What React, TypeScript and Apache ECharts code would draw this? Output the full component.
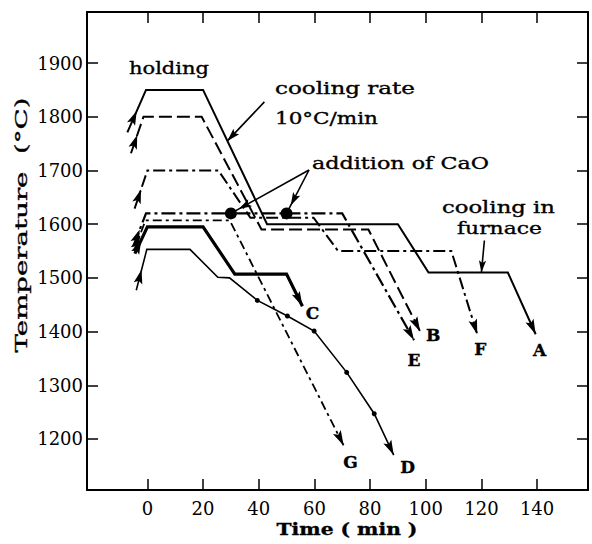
import React, { useEffect, useRef } from "react";
import * as echarts from "echarts";

// ---- data: time (min) and temperature (°C) vertices ----
const timeA = [-7.2, -0.5, 20, 43, 90, 101, 129.5, 139.5];
const tempA = [1771, 1850, 1850, 1600, 1600, 1510, 1510, 1395];
const timeB = [-5.9, -1.4, 19.5, 41, 79.4, 98];
const tempB = [1732, 1800, 1800, 1590, 1590, 1400];
const timeC = [-4.5, 0, 20, 31.4, 50, 55.7];
const tempC = [1545, 1595, 1595, 1507, 1507, 1447];
const timeD = [-4, -0.2, 15.3, 25.3, 29.5, 39.5, 50.3, 59.9, 71.6, 81.5, 88.5];
const tempD = [1477, 1553, 1553, 1501, 1500, 1458, 1429, 1401, 1324, 1247, 1170];
const sampledD = [5, 6, 7, 8, 9];
const timeE = [-5, -0.5, 70, 95.8];
const tempE = [1560, 1620, 1620, 1384];
const timeF = [-4.6, 0, 25.5, 37, 59.7, 68.5, 109.2, 118.5];
const tempF = [1629, 1700, 1700, 1612, 1612, 1550, 1550, 1395];
const timeG = [-4.8, -0.7, 29.6, 70.5];
const tempG = [1550, 1607, 1607, 1188];
const caoTimes = [30, 50];
const caoTemp = 1620;

const xTicks = [0, 20, 40, 60, 80, 100, 120, 140];
const yTicks = [1200, 1300, 1400, 1500, 1600, 1700, 1800, 1900];

const SERIF = '"DejaVu Serif"';

type Run = {
  name: string;
  t: number[];
  T: number[];
  dash: any;
  width: number;
  lab: [number, number];
};

const runs: Run[] = [
  { name: "A", t: timeA, T: tempA, dash: "solid", width: 2, lab: [4, 16] },
  { name: "B", t: timeB, T: tempB, dash: [13, 5], width: 2, lab: [13, 3] },
  { name: "C", t: timeC, T: tempC, dash: "solid", width: 3.2, lab: [10, 7] },
  { name: "D", t: timeD, T: tempD, dash: "solid", width: 1.6, lab: [14, 12] },
  { name: "E", t: timeE, T: tempE, dash: [14, 4, 3, 4], width: 2.2, lab: [0, 20] },
  { name: "F", t: timeF, T: tempF, dash: [12, 4, 3, 4], width: 2, lab: [3, 15] },
  { name: "G", t: timeG, T: tempG, dash: [9, 4, 3, 4], width: 1.8, lab: [7, 17] },
];

const measure = (text: string, font: string) => {
  const ctx = document.createElement("canvas").getContext("2d")!;
  ctx.font = font;
  return ctx.measureText(text).width;
};

function buildGraphics(chart: any) {
  const P = (t: number, T: number) =>
    chart.convertToPixel({ xAxisIndex: 0, yAxisIndex: 0 }, [t, T]) as number[];
  const els: any[] = [];

  const head = (tip: number[], from: number[], L = 12, W = 3.6) => {
    const dx = tip[0] - from[0];
    const dy = tip[1] - from[1];
    const len = Math.hypot(dx, dy) || 1;
    const ux = dx / len, uy = dy / len;
    const nx = -uy, ny = ux;
    const bx = tip[0] - ux * L, by = tip[1] - uy * L;
    const mx = tip[0] - ux * L * 0.8, my = tip[1] - uy * L * 0.8;
    els.push({
      type: "polygon",
      silent: true,
      z: 20,
      shape: { points: [tip, [bx + nx * W, by + ny * W], [mx, my], [bx - nx * W, by - ny * W]] },
      style: { fill: "#000" },
    });
  };
  const line = (a: number[], b: number[], w = 1.6) =>
    els.push({
      type: "line",
      silent: true,
      z: 20,
      shape: { x1: a[0], y1: a[1], x2: b[0], y2: b[1] },
      style: { stroke: "#000", lineWidth: w },
    });
  const text = (
    s: string,
    x: number,
    y: number,
    width: number | null,
    size = 17,
    align = "left",
    weight = "normal",
    rotation = 0
  ) => {
    const font = `${weight} ${size}px ${SERIF}`;
    const sx = width ? width / measure(s, font) : 1;
    els.push({
      type: "text",
      silent: true,
      z: 30,
      x,
      y,
      rotation,
      scaleX: sx,
      style: {
        text: s,
        font,
        fill: "#000",
        stroke: "#000",
        lineWidth: 0.35,
        textAlign: align,
        align,
        textVerticalAlign: "middle",
        verticalAlign: "middle",
      },
    });
  };

  // heating arrows and end arrows, and run labels
  runs.forEach((r) => {
    const p0 = P(r.t[0], r.T[0]);
    const p1 = P(r.t[1], r.T[1]);
    const f = 0.5;
    head([p0[0] + (p1[0] - p0[0]) * f, p0[1] + (p1[1] - p0[1]) * f], p0, 14, 4.4);
    const n = r.t.length;
    const pe = P(r.t[n - 1], r.T[n - 1]);
    const pp = P(r.t[n - 2], r.T[n - 2]);
    head(pe, pp, 15, 4.4);
    text(r.name, pe[0] + r.lab[0], pe[1] + r.lab[1], null, 17, "center", "bold");
  });

  // cooling-rate annotation arrow onto run A's first cooling segment
  {
    const fr = 0.38;
    const tt = timeA[2] + (timeA[3] - timeA[2]) * fr;
    const TT = tempA[2] + (tempA[3] - tempA[2]) * fr;
    const e = P(tt, TT);
    const s = [e[0] + 37, e[1] - 39];
    line(s, e);
    head(e, s, 13, 4);
  }
  // CaO arrows
  caoTimes.forEach((t) => {
    const d = P(t, caoTemp);
    const s = [309, 170];
    line(s, d);
    const dx = d[0] - s[0], dy = d[1] - s[1];
    const len = Math.hypot(dx, dy);
    const tip = [d[0] - (dx / len) * 9, d[1] - (dy / len) * 9];
    head(tip, s, 13, 4);
  });
  // furnace arrow onto run A's 1510 hold
  {
    const e = P(120, tempA[5]);
    const s = [e[0] + 3, e[1] - 32];
    line(s, e);
    head(e, s, 12, 3.6);
  }

  // annotation texts
  text("holding", 129, 68, 80);
  text("cooling rate", 275, 88, 140);
  text("10°C/min", 275, 118, 103);
  text("addition of CaO", 312, 163, 177);
  text("cooling in", 442, 207, 113);
  text("furnace", 457, 228, 85);
  text("Time ( min )", 347, 529, 141, 17, "center", "bold");
  text("Temperature  (°C)", 21, 225, 255, 17, "center", "normal", Math.PI / 2);
  return els;
}

const axisLine = { show: true, onZero: false, lineStyle: { color: "#000", width: 2 } };
const tickStyle = { color: "#000", width: 1.5 };
const plainNumber = (v: number) => String(v);

const option: any = {
  animation: false,
  backgroundColor: "#fff",
  grid: { left: 87, right: 4, top: 12, bottom: 54, containLabel: false },
  xAxis: [
    {
      type: "value",
      position: "bottom",
      min: -21.7,
      max: 158.3,
      axisLine,
      splitLine: { show: false },
      axisTick: { show: true, inside: true, length: 11, customValues: xTicks, lineStyle: tickStyle },
      axisLabel: {
        customValues: xTicks,
        formatter: plainNumber,
        fontFamily: "DejaVu Serif",
        fontSize: 18,
        color: "#000",
        margin: 9,
      },
    },
    {
      type: "value",
      position: "top",
      min: -21.7,
      max: 158.3,
      axisLine,
      splitLine: { show: false },
      axisTick: { show: true, inside: true, length: 11, customValues: xTicks, lineStyle: tickStyle },
      axisLabel: { show: false },
    },
  ],
  yAxis: [
    {
      type: "value",
      position: "left",
      min: 1105,
      max: 1995,
      axisLine,
      splitLine: { show: false },
      axisTick: { show: true, inside: true, length: 11, customValues: yTicks, lineStyle: tickStyle },
      axisLabel: {
        customValues: yTicks,
        formatter: plainNumber,
        fontFamily: "DejaVu Serif",
        fontSize: 18,
        color: "#000",
        margin: 4,
      },
    },
    {
      type: "value",
      position: "right",
      min: 1105,
      max: 1995,
      axisLine,
      splitLine: { show: false },
      axisTick: { show: true, inside: true, length: 11, customValues: yTicks, lineStyle: tickStyle },
      axisLabel: { show: false },
    },
  ],
  series: [
    ...runs.map((r) => ({
      type: "line",
      name: r.name,
      xAxisIndex: 0,
      yAxisIndex: 0,
      data: r.t.map((t, i) => [t, r.T[i]]),
      showSymbol: false,
      symbol: "none",
      silent: true,
      z: 3,
      lineStyle: { color: "#000", width: r.width, type: r.dash, cap: "butt", join: "miter", opacity: 1 },
    })),
    {
      type: "scatter",
      name: "D samples",
      data: sampledD.map((i) => [timeD[i], tempD[i]]),
      symbol: "circle",
      symbolSize: 5,
      itemStyle: { color: "#000", opacity: 1 },
      silent: true,
      z: 4,
    },
    {
      type: "scatter",
      name: "CaO addition",
      data: caoTimes.map((t) => [t, caoTemp]),
      symbol: "circle",
      symbolSize: 12,
      itemStyle: { color: "#000", opacity: 1 },
      silent: true,
      z: 5,
    },
  ],
};

export default function App() {
  const ref = useRef<HTMLDivElement>(null);
  useEffect(() => {
    const chart = echarts.init(ref.current!, undefined, { renderer: "svg" });
    chart.setOption(option);
    chart.setOption({ graphic: { elements: buildGraphics(chart) } });
    return () => chart.dispose();
  }, []);
  return (
    <div
      ref={ref}
      style={{ position: "absolute", left: 0, top: 0, width: 592, height: 544, background: "#fff" }}
    />
  );
}
